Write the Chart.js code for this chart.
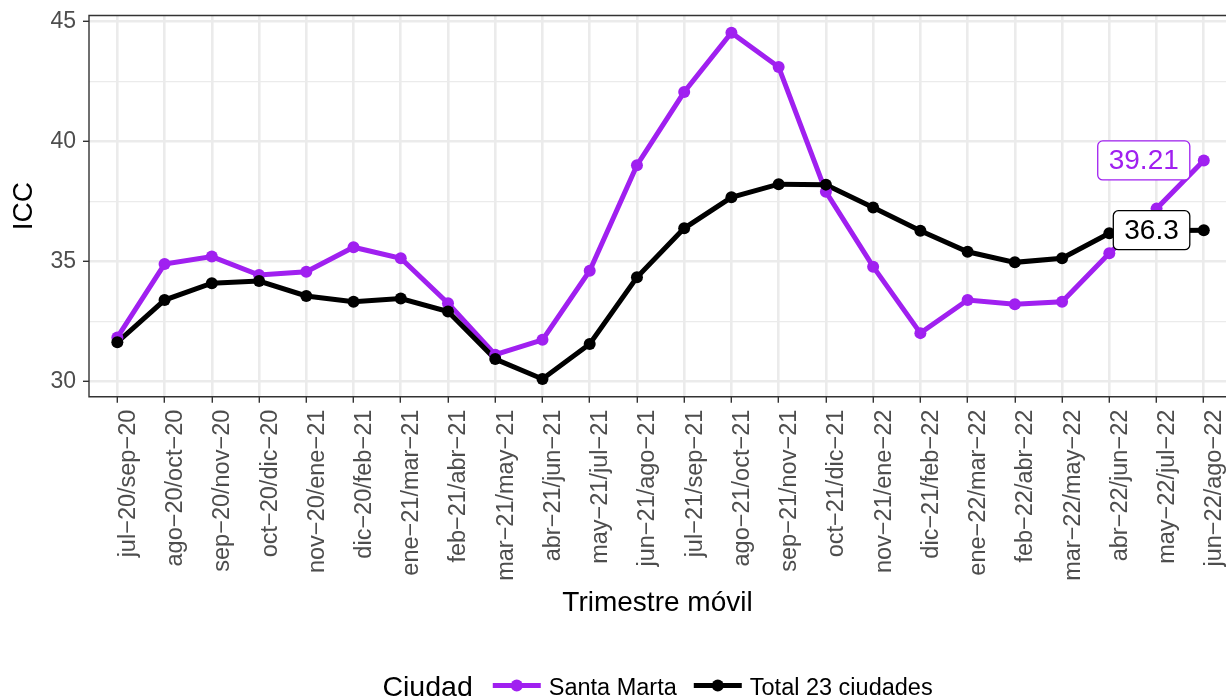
<!DOCTYPE html>
<html lang="es">
<head>
  <meta charset="UTF-8">
  <title>ICC Santa Marta</title>
  <style>
    html, body { margin: 0; padding: 0; background: #fff; overflow: hidden; }
    #grafico { display: block; }
  </style>
</head>
<body>
  <canvas id="grafico" width="1226" height="698"></canvas>

  <script src="https://cdn.jsdelivr.net/npm/chart.js"></script>
  <script>
    // Trimestres móviles (eje X)
    const trimestres = [
      'jul-20/sep-20', 'ago-20/oct-20', 'sep-20/nov-20', 'oct-20/dic-20',
      'nov-20/ene-21', 'dic-20/feb-21', 'ene-21/mar-21', 'feb-21/abr-21',
      'mar-21/may-21', 'abr-21/jun-21', 'may-21/jul-21', 'jun-21/ago-21',
      'jul-21/sep-21', 'ago-21/oct-21', 'sep-21/nov-21', 'oct-21/dic-21',
      'nov-21/ene-22', 'dic-21/feb-22', 'ene-22/mar-22', 'feb-22/abr-22',
      'mar-22/may-22', 'abr-22/jun-22', 'may-22/jul-22', 'jun-22/ago-22'
    ];

    // ICC por ciudad
    const santaMarta = [
      31.83, 34.89, 35.20, 34.43, 34.57, 35.59, 35.13, 33.26,
      31.11, 31.73, 34.61, 39.01, 42.06, 44.53, 43.10, 37.90,
      34.78, 32.01, 33.39, 33.21, 33.32, 35.34, 37.20, 39.21
    ];
    const total23 = [
      31.63, 33.39, 34.09, 34.18, 33.56, 33.32, 33.45, 32.91,
      30.93, 30.10, 31.56, 34.34, 36.38, 37.67, 38.22, 38.20,
      37.25, 36.28, 35.40, 34.96, 35.13, 36.17, 36.28, 36.3
    ];

    // ticks del eje Y (los múltiplos de 5 llevan etiqueta)
    const yTicks = [30, 32.5, 35, 37.5, 40, 42.5, 45];

    const MORADO = '#A020F0';
    const NEGRO = '#000000';
    const FUENTE = "'Liberation Sans', Arial, sans-serif";

    Chart.defaults.font.family = FUENTE;

    const puntos = arr => arr.map((v, i) => ({ x: i, y: v }));

    // etiquetas del último valor (estilo ggrepel)
    const etiquetasFinales = {
      id: 'etiquetasFinales',
      afterDatasetsDraw(chart) {
        const ctx = chart.ctx;
        const series = [
          { idx: 2, valores: santaMarta, color: MORADO },
          { idx: 3, valores: total23, color: NEGRO }
        ];
        ctx.save();
        ctx.font = '28px ' + FUENTE;
        ctx.textBaseline = 'middle';
        ctx.textAlign = 'center';
        series.forEach(s => {
          const meta = chart.getDatasetMeta(s.idx);
          const p = meta.data[meta.data.length - 1];
          const texto = String(s.valores[s.valores.length - 1]);
          const w = ctx.measureText(texto).width + 22;
          const h = 39;
          const x1 = p.x - 14 - w;
          const y1 = p.y - h / 2;
          ctx.beginPath();
          ctx.roundRect(x1, y1, w, h, 5);
          ctx.fillStyle = '#fff';
          ctx.fill();
          ctx.lineWidth = 1.3;
          ctx.strokeStyle = s.color;
          ctx.stroke();
          ctx.fillStyle = s.color;
          ctx.fillText(texto, x1 + w / 2, p.y + 1);
        });
        ctx.restore();
      }
    };

    // borde del panel (el lado derecho queda fuera de la imagen)
    const bordePanel = {
      id: 'bordePanel',
      afterDatasetsDraw(chart) {
        const a = chart.chartArea;
        const ctx = chart.ctx;
        ctx.save();
        ctx.strokeStyle = '#333333';
        ctx.lineWidth = 1.4;
        ctx.beginPath();
        ctx.moveTo(chart.width, a.top);
        ctx.lineTo(a.left, a.top);
        ctx.lineTo(a.left, a.bottom);
        ctx.lineTo(chart.width, a.bottom);
        ctx.stroke();
        ctx.restore();
      }
    };

    // leyenda inferior con título a la izquierda
    const leyenda = {
      id: 'leyenda',
      afterDraw(chart) {
        const ctx = chart.ctx;
        const xs = chart.scales.x;
        const centro = xs.getPixelForValue(11.5) - 3;
        const base = 695;
        const yLinea = 685.5;
        const items = [
          { texto: 'Santa Marta', color: MORADO },
          { texto: 'Total 23 ciudades', color: NEGRO }
        ];
        ctx.save();
        ctx.font = '28.5px ' + FUENTE;
        const wTitulo = ctx.measureText('Ciudad').width;
        ctx.font = '23.5px ' + FUENTE;
        const wItems = items.map(it => ctx.measureText(it.texto).width);
        const total = wTitulo + 20 + items.length * (48 + 8) + wItems.reduce((s, w) => s + w, 0) + 17;
        let x = centro - total / 2;

        ctx.textBaseline = 'alphabetic';
        ctx.textAlign = 'left';
        ctx.fillStyle = '#000';
        ctx.font = '28.5px ' + FUENTE;
        ctx.fillText('Ciudad', x, base + 1);
        x += wTitulo + 20;

        ctx.font = '23.5px ' + FUENTE;
        items.forEach((it, i) => {
          ctx.strokeStyle = it.color;
          ctx.lineWidth = 5;
          ctx.beginPath();
          ctx.moveTo(x, yLinea);
          ctx.lineTo(x + 48, yLinea);
          ctx.stroke();
          ctx.fillStyle = it.color;
          ctx.beginPath();
          ctx.arc(x + 24, yLinea, 6, 0, Math.PI * 2);
          ctx.fill();
          x += 48 + 8;
          ctx.fillStyle = '#000';
          ctx.fillText(it.texto, x, base);
          x += wItems[i] + 17;
        });
        ctx.restore();
      }
    };

    window.onload = function () {
      const ctx = document.getElementById('grafico').getContext('2d');

      new Chart(ctx, {
        type: 'line',
        data: {
          datasets: [
            { // líneas
              data: puntos(santaMarta), borderColor: MORADO, borderWidth: 5,
              pointRadius: 0, order: 4
            },
            {
              data: puntos(total23), borderColor: NEGRO, borderWidth: 5,
              pointRadius: 0, order: 3
            },
            { // puntos
              data: puntos(santaMarta), showLine: false, pointRadius: 6,
              pointBackgroundColor: MORADO, pointBorderWidth: 0, order: 2
            },
            {
              data: puntos(total23), showLine: false, pointRadius: 6,
              pointBackgroundColor: NEGRO, pointBorderWidth: 0, order: 1
            }
          ]
        },
        options: {
          responsive: false,
          animation: false,
          devicePixelRatio: 1,
          layout: {
            autoPadding: false,
            padding: { top: 15.5, right: 0, bottom: 0, left: 0 }
          },
          plugins: {
            legend: { display: false },
            tooltip: { enabled: false }
          },
          scales: {
            x: {
              type: 'linear',
              min: -0.6,
              max: 23.47,
              afterBuildTicks: s => { s.ticks = trimestres.map((_, i) => ({ value: i })); },
              afterFit: s => { s.height = 301.3; s.paddingLeft = 0; s.paddingRight = 0; },
              border: { display: false },
              grid: {
                color: '#EBEBEB',
                lineWidth: 2.6,
                tickColor: '#333333',
                tickWidth: 1.4,
                tickLength: 6
              },
              ticks: {
                autoSkip: false,
                minRotation: 90,
                maxRotation: 90,
                padding: 7,
                labelOffset: 11,
                color: '#4D4D4D',
                font: { size: 23.5 },
                callback: v => (trimestres[v] || '').replace(/-/g, '\u2212')
              },
              title: {
                display: true,
                text: 'Trimestre móvil',
                color: '#000',
                font: { size: 28 },
                padding: { top: 0, bottom: 78 }
              }
            },
            y: {
              min: 29.36,
              max: 45.25,
              afterBuildTicks: s => { s.ticks = yTicks.map(v => ({ value: v })); },
              afterFit: s => { s.width = 89; s.paddingTop = 0; s.paddingBottom = 0; },
              border: { display: false },
              grid: {
                color: '#EBEBEB',
                lineWidth: c => (c.tick && c.tick.value % 5 === 0 ? 2.6 : 1.3),
                tickColor: c => (c.tick && c.tick.value % 5 === 0 ? '#333333' : 'rgba(0,0,0,0)'),
                tickWidth: 1.4,
                tickLength: 6
              },
              ticks: {
                padding: 7,
                color: '#4D4D4D',
                font: { size: 23 },
                callback: v => (v % 5 === 0 ? String(v) : '')
              },
              title: {
                display: true,
                text: 'ICC',
                color: '#000',
                font: { size: 28 },
                padding: { top: 7, bottom: 0 }
              }
            }
          }
        },
        plugins: [bordePanel, etiquetasFinales, leyenda]
      });
    };
  </script>
</body>
</html>
